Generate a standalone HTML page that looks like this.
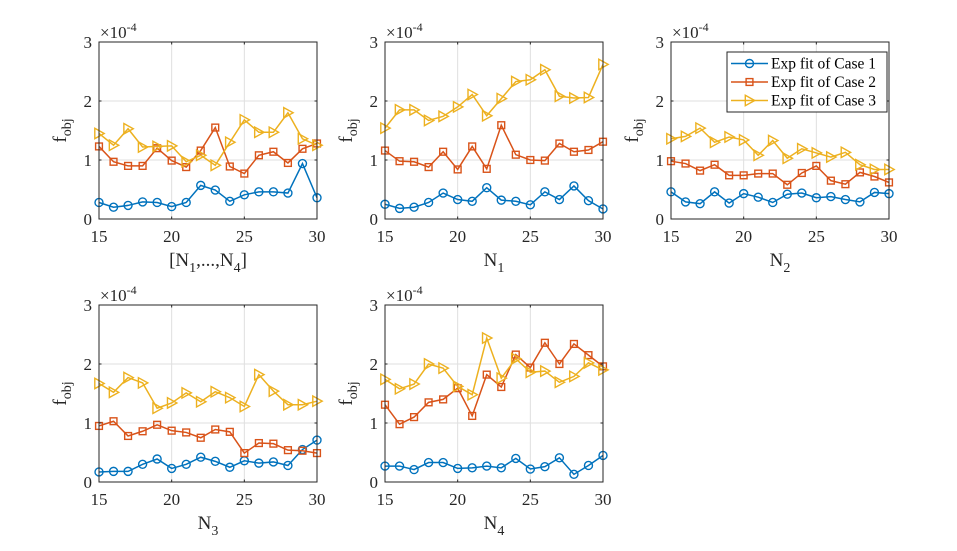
<!DOCTYPE html>
<html><head><meta charset="utf-8">
<style>
html,body{margin:0;padding:0;background:#fff;}
svg{display:block;font-family:"Liberation Serif",serif;}
</style></head>
<body>
<svg id="chart" width="957" height="551" viewBox="0 0 957 551" xmlns="http://www.w3.org/2000/svg"></svg>
<script>
const xValues = [15,16,17,18,19,20,21,22,23,24,25,26,27,28,29,30];
const xTicks = [15,20,25,30];
const yTicks = [0,1,2,3];
const seriesNames = ["Exp fit of Case 1","Exp fit of Case 2","Exp fit of Case 3"];
const xLabels = ["[N1,...,N4]","N1","N2","N3","N4"];
// plot 1
const p1c1 = [0.28,0.20,0.23,0.29,0.28,0.21,0.28,0.57,0.49,0.30,0.41,0.46,0.46,0.44,0.94,0.36];
const p1c2 = [1.23,0.97,0.90,0.90,1.20,0.99,0.88,1.16,1.55,0.89,0.77,1.08,1.14,0.95,1.19,1.28];
const p1c3 = [1.45,1.25,1.53,1.22,1.23,1.24,0.97,1.08,0.91,1.30,1.68,1.47,1.47,1.80,1.36,1.25];
// plot 2
const p2c1 = [0.25,0.18,0.20,0.28,0.44,0.33,0.30,0.53,0.32,0.30,0.24,0.46,0.33,0.56,0.31,0.17];
const p2c2 = [1.16,0.98,0.97,0.88,1.14,0.84,1.23,0.85,1.59,1.09,1.00,0.99,1.28,1.14,1.17,1.31];
const p2c3 = [1.54,1.85,1.85,1.67,1.74,1.90,2.11,1.75,2.04,2.33,2.36,2.53,2.08,2.05,2.06,2.62];
// plot 3
const p3c1 = [0.46,0.29,0.26,0.46,0.27,0.43,0.37,0.28,0.42,0.44,0.36,0.38,0.33,0.29,0.45,0.43];
const p3c2 = [0.98,0.94,0.82,0.92,0.74,0.74,0.77,0.77,0.58,0.78,0.90,0.65,0.59,0.79,0.72,0.62];
const p3c3 = [1.36,1.40,1.54,1.30,1.39,1.34,1.08,1.33,1.03,1.19,1.12,1.05,1.13,0.92,0.84,0.84];
// plot 4
const p4c1 = [0.17,0.18,0.18,0.30,0.39,0.23,0.30,0.42,0.35,0.25,0.36,0.32,0.34,0.28,0.55,0.71];
const p4c2 = [0.95,1.03,0.78,0.86,0.97,0.87,0.84,0.75,0.89,0.85,0.49,0.66,0.65,0.54,0.53,0.49];
const p4c3 = [1.67,1.52,1.77,1.68,1.25,1.34,1.51,1.36,1.53,1.43,1.28,1.82,1.54,1.31,1.31,1.37];
// plot 5
const p5c1 = [0.27,0.27,0.21,0.33,0.33,0.23,0.24,0.27,0.24,0.40,0.22,0.26,0.41,0.13,0.28,0.45];
const p5c2 = [1.31,0.98,1.10,1.35,1.40,1.59,1.12,1.82,1.61,2.16,1.94,2.36,2.00,2.34,2.15,1.96];
const p5c3 = [1.74,1.58,1.66,2.00,1.93,1.62,1.48,2.44,1.76,2.09,1.86,1.88,1.69,1.79,2.02,1.90];

const colors = ["#0072BD","#D95319","#EDB120"];
const NS = "http://www.w3.org/2000/svg";
const svg = document.getElementById("chart");
function mk(tag, attrs, parent){const e=document.createElementNS(NS,tag);for(const k in attrs)e.setAttribute(k,attrs[k]);(parent||svg).appendChild(e);return e;}

const panels = [
  {x0:99,x1:317,y0:42,y1:219,data:[p1c1,p1c2,p1c3],sub:["[N","1",",...,N","4","]"]},
  {x0:385,x1:603,y0:42,y1:219,data:[p2c1,p2c2,p2c3],sub:["N","1"]},
  {x0:671,x1:889,y0:42,y1:219,data:[p3c1,p3c2,p3c3],sub:["N","2"],legend:true},
  {x0:99,x1:317,y0:305,y1:482,data:[p4c1,p4c2,p4c3],sub:["N","3"]},
  {x0:385,x1:603,y0:305,y1:482,data:[p5c1,p5c2,p5c3],sub:["N","4"]}
];

function marker(g, kind, x, y, c){
  let m;
  if(kind===0){m=mk("circle",{cx:x,cy:y,r:4,fill:"none",stroke:c,"stroke-width":1.4},g);}
  else if(kind===1){m=mk("rect",{x:x-3.4,y:y-3.4,width:6.8,height:6.8,fill:"none",stroke:c,"stroke-width":1.4},g);}
  else {m=mk("polygon",{points:`${x-4.2},${y-5.2} ${x+5.2},${y} ${x-4.2},${y+5.2}`,fill:"none",stroke:c,"stroke-width":1.4},g);}
  
  
  return m;
}

panels.forEach((p,pi)=>{
  const g = mk("g",{});
  
  
  const sx = v => p.x0 + (v-15)/15*(p.x1-p.x0);
  const sy = v => p.y1 - v/3*(p.y1-p.y0);
  xTicks.forEach(t=>{ if(t>15&&t<30){const l=mk("line",{x1:sx(t),x2:sx(t),y1:p.y0,y2:p.y1,stroke:"#dfdfdf","stroke-width":1},g);
    
    }});
  yTicks.forEach(t=>{ if(t>0&&t<3){const l=mk("line",{x1:p.x0,x2:p.x1,y1:sy(t),y2:sy(t),stroke:"#dfdfdf","stroke-width":1},g);
    
    }});
  p.data.forEach((arr,si)=>{
    const pts = arr.map((v,i)=>sx(xValues[i])+","+sy(v)).join(" ");
    const pl = mk("polyline",{points:pts,fill:"none",stroke:colors[si],"stroke-width":1.5},g);
    
    
    arr.forEach((v,i)=>marker(g,si,sx(xValues[i]),sy(v),colors[si]));
  });
  const box = mk("rect",{x:p.x0,y:p.y0,width:p.x1-p.x0,height:p.y1-p.y0,fill:"none",stroke:"#262626","stroke-width":1},g);
  
  
  xTicks.forEach(t=>{
    mk("line",{x1:sx(t),x2:sx(t),y1:p.y1,y2:p.y1-2.5,stroke:"#262626"},g);
    mk("line",{x1:sx(t),x2:sx(t),y1:p.y0,y2:p.y0+2.5,stroke:"#262626"},g);
    const tx = mk("text",{x:sx(t),y:p.y1+23,"text-anchor":"middle","font-size":17,fill:"#262626"},g);
    tx.textContent=t;
    
    
  });
  yTicks.forEach(t=>{
    mk("line",{x1:p.x0,x2:p.x0+2.5,y1:sy(t),y2:sy(t),stroke:"#262626"},g);
    mk("line",{x1:p.x1,x2:p.x1-2.5,y1:sy(t),y2:sy(t),stroke:"#262626"},g);
    const ty = mk("text",{x:p.x0-7,y:sy(t)+6,"text-anchor":"end","font-size":17,fill:"#262626"},g);
    ty.textContent=t;
    
    
  });
  const ex = mk("text",{x:p.x0+1,y:p.y0-4,"font-size":17,fill:"#262626"},g);
  ex.innerHTML = '×10<tspan dy="-7" font-size="12">-4</tspan>';
  
  
  const yl = mk("text",{transform:`translate(${p.x0-33},${(p.y0+p.y1)/2}) rotate(-90)`,"text-anchor":"middle","font-size":19,fill:"#262626"},g);
  yl.innerHTML = 'f<tspan dy="5" font-size="14">obj</tspan>';
  
  
  const xl = mk("text",{x:(p.x0+p.x1)/2,y:p.y1+47,"text-anchor":"middle","font-size":19,fill:"#262626"},g);
  let h="";
  p.sub.forEach((s,i)=>{ if(i%2===0) h+=`<tspan dy="${i===0?0:-6}">${s}</tspan>`; else h+=`<tspan dy="6" font-size="14">${s}</tspan>`; });
  xl.innerHTML = h;
  
  
  if(p.legend){
    const lg = mk("g",{},g);
    
    
    mk("rect",{x:727,y:52,width:160,height:60,fill:"#fff",stroke:"#262626","stroke-width":1},lg);
    seriesNames.forEach((n,i)=>{
      const y = 63.5 + i*18.5;
      const e = mk("g",{},lg);
      
      
      mk("line",{x1:731,x2:768,y1:y,y2:y,stroke:colors[i],"stroke-width":1.5},e);
      marker(e,i,749.5,y,colors[i]);
      const t = mk("text",{x:771,y:y+5,"font-size":15.5,fill:"#000"},e);
      t.textContent=n;
    });
  }
});
</script>
</body></html>
